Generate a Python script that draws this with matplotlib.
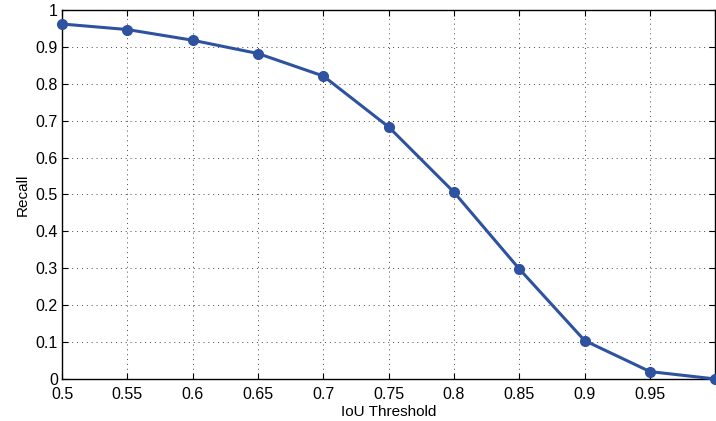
import matplotlib
matplotlib.use('Agg')
import matplotlib.pyplot as plt

# IoU阈值与召回率
iou_thresholds = [0.5, 0.55, 0.6, 0.65, 0.7, 0.75, 0.8, 0.85, 0.9, 0.95, 1.0]
recall = [0.962, 0.947, 0.918, 0.882, 0.821, 0.683, 0.506, 0.298, 0.104, 0.020, 0.0]

x_ticks = [0.5, 0.55, 0.6, 0.65, 0.7, 0.75, 0.8, 0.85, 0.9, 0.95, 1.0]
x_tick_labels = ['0.5', '0.55', '0.6', '0.65', '0.7', '0.75', '0.8', '0.85', '0.9', '0.95', '']
y_ticks = [0, 0.1, 0.2, 0.3, 0.4, 0.5, 0.6, 0.7, 0.8, 0.9, 1.0]
y_tick_labels = ['0', '0.1', '0.2', '0.3', '0.4', '0.5', '0.6', '0.7', '0.8', '0.9', '1']

plt.rcParams['font.family'] = ['Liberation Sans', 'DejaVu Sans']
plt.rcParams['font.size'] = 11.5

fig = plt.figure(figsize=(7.16, 4.21), dpi=100)
ax = fig.add_axes([0.0866, 0.0998, 0.9125, 0.8765])

ax.plot(iou_thresholds, recall, color='#2E52A0', linewidth=2.2,
        marker='o', markersize=7, clip_on=False, zorder=3)

ax.set_xlim(0.5, 1.0)
ax.set_ylim(0, 1)
ax.set_xticks(x_ticks)
ax.set_xticklabels(x_tick_labels)
ax.set_yticks(y_ticks)
ax.set_yticklabels(y_tick_labels)
ax.tick_params(direction='in', length=4, width=0.8, top=True, right=True)
ax.tick_params(axis='x', pad=6)
ax.tick_params(axis='y', pad=3)
ax.grid(True, linestyle=(0, (1, 4)), color='#444444', linewidth=0.7)
for s in ax.spines.values():
    s.set_linewidth(1.0)

ax.set_xlabel('IoU Threshold', labelpad=2, fontsize=11)
ax.set_ylabel('Recall', labelpad=4, fontsize=11)

fig.savefig('out.png', dpi=100)
